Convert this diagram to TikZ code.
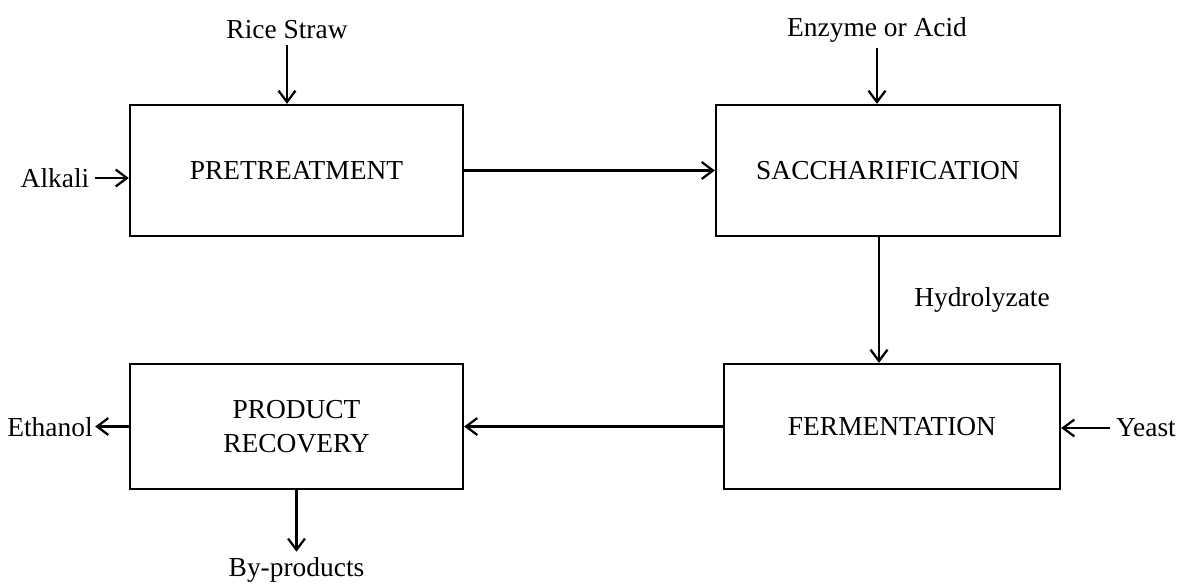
\documentclass[tikz,border=0pt]{standalone}
\usepackage{fontspec}
\setmainfont{Liberation Serif}
\usepackage{tikz}
\usetikzlibrary{arrows.meta}

\begin{document}
\begin{tikzpicture}[x=0.025cm,y=-0.025cm,line width=1.6pt,
  >={Straight Barb[length=8pt,width=12pt]},
  font=\fontsize{19.5}{23}\selectfont,
  box/.style={draw,align=center,inner sep=0pt}]
\useasboundingbox (0,0) rectangle (1182,585);

  \node[box,minimum width=8.325cm,minimum height=3.275cm] (pre) at (296.5,170.5) {PRETREATMENT};
  \node[box,minimum width=8.6cm,minimum height=3.275cm]   (sac) at (888,170.5)   {SACCHARIFICATION};
  \node[box,minimum width=8.4cm,minimum height=3.125cm]   (fer) at (892,426.5)   {FERMENTATION};
  \node[box,minimum width=8.325cm,minimum height=3.125cm] (rec) at (296.5,426.5) {PRODUCT\\[1pt]RECOVERY};

  \node (rice)  at (287,30)   {Rice Straw};
  \node (enz)   at (877,30)   {Enzyme or Acid};
  \node (alk)   at (55,178)   {Alkali};
  \node (hyd)   at (982,300)  {Hydrolyzate};
  \node (yeast) at (1146,428) {Yeast};
  \node[inner sep=1pt] (eth) at (50,427) {Ethanol};
  \node (byp)   at (296.5,570) {By-products};

  \path[->]
        (rice)       edge (rice |- pre.north)
        (alk)        edge (alk -| pre.west)
        (pre.east)   edge (sac.west)
        (enz)        edge (enz |- sac.north)
        (sac.south -| 879,0) edge (fer.north -| 879,0)
        (yeast)      edge (yeast -| fer.east)
        (fer.west)   edge (rec.east)
        (rec.west)   edge (rec.west -| eth.east)
        (rec.south)  edge (byp);
\end{tikzpicture}
\end{document}
